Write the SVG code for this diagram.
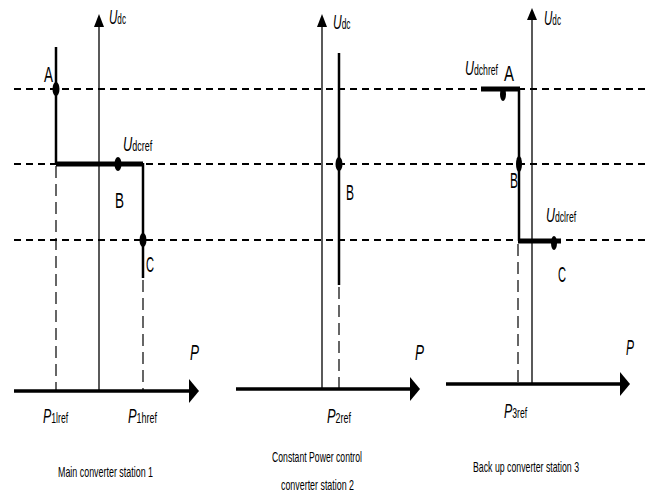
<svg xmlns="http://www.w3.org/2000/svg" width="656" height="498" viewBox="0 0 656 498">
<defs>
<style>
text{font-family:"Liberation Sans",Arial,sans-serif;fill:#000}
.big{font-size:22px}
.u{font-size:20px;font-style:italic}
.it{font-style:italic}
.sm{font-size:14px;font-style:normal}
.cap{font-size:15px}
.ax{stroke:#000;stroke-width:1.3;fill:none}
.pax{stroke:#000;stroke-width:3.5;fill:none}
.hd{stroke:#000;stroke-width:2;stroke-dasharray:7 5;fill:none}
.vd{stroke:#000;stroke-width:1.2;stroke-dasharray:12 6;fill:none}
.th{stroke:#000;stroke-width:5;fill:none}
.md{stroke:#000;stroke-width:2.5;fill:none}
</style>
</defs>
<rect width="656" height="498" fill="#fff"/>
<g id="gridlines">
<line class="hd" x1="14" y1="89" x2="645" y2="89"/>
<line class="hd" x1="14" y1="164" x2="645" y2="164"/>
<line class="hd" x1="14" y1="240" x2="645" y2="240"/>
</g>
<g id="connectors">
<line class="ax" x1="99" y1="391" x2="99" y2="25"/>
<polygon points="99,14 94,27 104,27"/>
<line class="pax" x1="14" y1="391" x2="190" y2="391"/>
<polygon points="199,391 189,379 189,403"/>
<line class="md" x1="56" y1="47" x2="56" y2="164"/>
<line class="th" x1="56" y1="164" x2="143" y2="164"/>
<line class="md" x1="143" y1="163" x2="143" y2="278"/>
<line class="vd" x1="56" y1="166" x2="56" y2="391"/>
<line class="vd" x1="143" y1="280" x2="143" y2="391"/>
<line class="ax" x1="322" y1="389" x2="322" y2="24"/>
<polygon points="322,14 317,27 327,27"/>
<line class="pax" x1="236" y1="389" x2="411" y2="389"/>
<polygon points="420,389 410,377 410,401"/>
<line class="md" x1="339" y1="53" x2="339" y2="285"/>
<line class="vd" x1="339" y1="287" x2="339" y2="389"/>
<line class="ax" x1="532" y1="385" x2="532" y2="18"/>
<polygon points="532,8 527,20 537,20"/>
<line class="pax" x1="446" y1="384" x2="621" y2="384"/>
<polygon points="630,384 620,372 620,396"/>
<line class="th" x1="481" y1="89" x2="520" y2="89"/>
<line class="md" x1="519" y1="89" x2="519" y2="241"/>
<line class="th" x1="518" y1="241" x2="561" y2="241"/>
<line class="vd" x1="518" y1="244" x2="518" y2="384"/>
</g>
<g id="panel1">
<ellipse cx="56" cy="89" rx="3.5" ry="7"/>
<ellipse cx="118" cy="164" rx="3.5" ry="7"/>
<ellipse cx="143" cy="240" rx="3.5" ry="7"/>
<text transform="translate(109,24) scale(0.58,1)"><tspan class="u">U</tspan><tspan class="sm">dc</tspan></text>
<text class="big" x="44" y="82" textLength="9" lengthAdjust="spacingAndGlyphs">A</text>
<text transform="translate(123,151) scale(0.64,1)"><tspan class="u">U</tspan><tspan class="sm">dcref</tspan></text>
<text class="big" x="115" y="208" textLength="9" lengthAdjust="spacingAndGlyphs">B</text>
<text class="big" x="146" y="272" textLength="8" lengthAdjust="spacingAndGlyphs">C</text>
<text class="big it" x="190" y="360" textLength="9" lengthAdjust="spacingAndGlyphs">P</text>
<text transform="translate(43,423) scale(0.62,1)"><tspan class="u">P</tspan><tspan class="sm">1lref</tspan></text>
<text transform="translate(128,423) scale(0.64,1)"><tspan class="u">P</tspan><tspan class="sm">1href</tspan></text>
<text class="cap" x="58" y="477" textLength="95" lengthAdjust="spacingAndGlyphs">Main converter station 1</text>
</g>
<g id="panel2">
<ellipse cx="339" cy="164" rx="3.5" ry="7"/>
<text transform="translate(333,29) scale(0.6,1)"><tspan class="u">U</tspan><tspan class="sm">dc</tspan></text>
<text class="big" x="346" y="200" textLength="8" lengthAdjust="spacingAndGlyphs">B</text>
<text class="big it" x="415" y="360" textLength="9" lengthAdjust="spacingAndGlyphs">P</text>
<text transform="translate(327,423) scale(0.64,1)"><tspan class="u">P</tspan><tspan class="sm">2ref</tspan></text>
<text class="cap" x="272" y="462" textLength="90" lengthAdjust="spacingAndGlyphs">Constant Power control</text>
<text class="cap" x="281" y="490" textLength="73" lengthAdjust="spacingAndGlyphs">converter station 2</text>
</g>
<g id="panel3">
<ellipse cx="503" cy="94" rx="3" ry="7"/>
<ellipse cx="519" cy="164" rx="3" ry="8"/>
<ellipse cx="554" cy="243" rx="3" ry="7"/>
<text transform="translate(544,25) scale(0.58,1)"><tspan class="u">U</tspan><tspan class="sm">dc</tspan></text>
<text transform="translate(465,75) scale(0.62,1)"><tspan class="u">U</tspan><tspan class="sm">dchref</tspan></text>
<text class="big" x="504" y="81" textLength="10" lengthAdjust="spacingAndGlyphs">A</text>
<text class="big" x="510" y="188" textLength="8" lengthAdjust="spacingAndGlyphs">B</text>
<text transform="translate(546,222) scale(0.62,1)"><tspan class="u">U</tspan><tspan class="sm">dclref</tspan></text>
<text class="big" x="558" y="282" textLength="8" lengthAdjust="spacingAndGlyphs">C</text>
<text class="big it" x="626" y="355" textLength="8" lengthAdjust="spacingAndGlyphs">P</text>
<text transform="translate(504,418) scale(0.62,1)"><tspan class="u">P</tspan><tspan class="sm">3ref</tspan></text>
<text class="cap" x="473" y="472" textLength="106" lengthAdjust="spacingAndGlyphs">Back up converter station 3</text>
</g>
</svg>
